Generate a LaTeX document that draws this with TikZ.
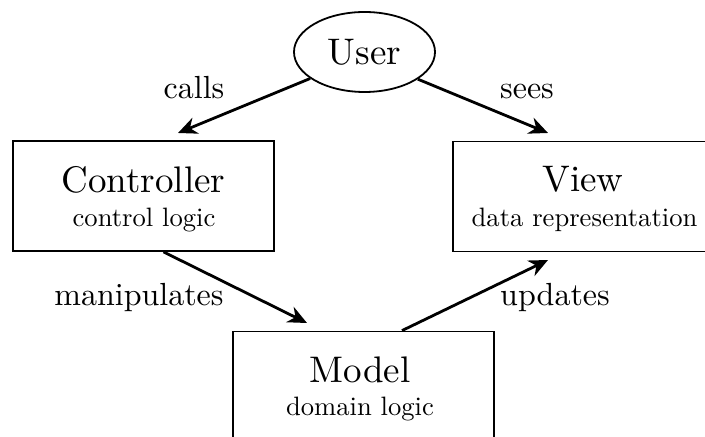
\documentclass[tikz,border=0pt]{standalone}
\usepackage{fontspec}
\setmainfont{lmroman10-regular.otf}
\usetikzlibrary{arrows.meta,calc,shapes.geometric}

\tikzset{
  box/.style={draw, line width=0.9pt, rectangle, minimum width=130.5pt, minimum height=55pt, inner sep=0pt},
  oval/.style={draw, line width=0.9pt, ellipse, minimum width=70.5pt, minimum height=40pt, inner sep=0pt},
  title/.style={anchor=base, inner sep=0pt, font=\fontsize{18.5}{20}\selectfont},
  subtitle/.style={anchor=base, inner sep=0pt, font=\fontsize{13.3}{15}\selectfont},
  edgelabel/.style={anchor=base, inner sep=0pt, font=\fontsize{16}{18}\selectfont},
  arr/.style={line width=1.4pt, -{Stealth[length=9.5pt,width=8.5pt]}}
}

\begin{document}
\begin{tikzpicture}[x=0.5pt, y=-0.5pt]
  \clip (0,0) rectangle (705,437);
  \useasboundingbox (0,0) rectangle (705,437);

  % the user and the three parts of the pattern
  \node[oval] (user) at (364.5,52) {};
  \node[title] (userT) at (364.5,65) {User};

  \node[box] (ctrl) at (143.5,196) {};
  \node[title] (ctrlT) at (143.5,193) {Controller};
  \node[subtitle] (ctrlS) at (144,227) {control logic};

  \node[box] (view) at (583.5,196.5) {};
  \node[title] (viewT) at (583,192) {View};
  \node[subtitle] (viewS) at (584.5,227) {data representation};

  \node[box] (model) at (363.5,386.5) {};
  \node[title] (modelT) at (360,382) {Model};
  \node[subtitle] (modelS) at (360,415.5) {domain logic};

  % arrow ends
  \coordinate (callsTip) at (178,133);
  \coordinate (seesTip) at (548,133);
  \coordinate (manipStart) at ($(ctrl.south)+(20,0)$);
  \coordinate (manipTip) at (307,323);
  \coordinate (updStart) at ($(model.north)+(38.5,0)$);
  \coordinate (updTip) at (548,260);

  % connectors
  \draw[arr] (user.206) -- (callsTip);
  \draw[arr] (user.333) -- (seesTip);
  \draw[arr] (manipStart) -- (manipTip);
  \draw[arr] (updStart) -- (updTip);

  % connector labels
  \node[edgelabel] (callsL) at (194,99) {calls};
  \node[edgelabel] (seesL) at (527,99) {sees};
  \node[edgelabel] (manipL) at (139,306) {manipulates};
  \node[edgelabel] (updL) at (555,306) {updates};
\end{tikzpicture}
\end{document}
